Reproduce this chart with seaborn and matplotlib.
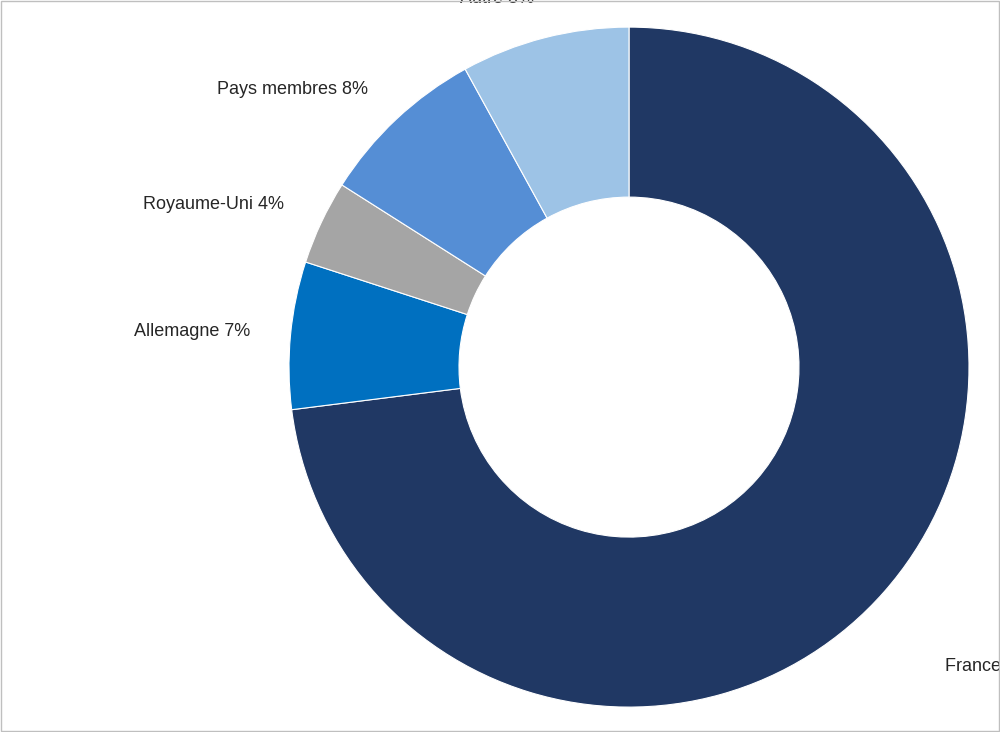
import matplotlib
matplotlib.use("Agg")
import matplotlib.pyplot as plt
import seaborn as sns

# ── data ─────────────────────────────────────────────────────────────────────
labels = ["France", "Allemagne", "Royaume-Uni", "Pays membres", "Autre"]
shares = [73, 7, 4, 8, 8]
colors = ["#203864", "#0070C0", "#A5A5A5", "#558ED5", "#9DC3E6"]

sns.set_style("white")
plt.rcParams["font.family"] = ["Liberation Sans", "DejaVu Sans"]

fig = plt.figure(figsize=(10, 7.32), dpi=100)
ax = fig.add_axes([0.289, 0.034, 0.68, 0.929])

texts = [f"{l} {v}%" for l, v in zip(labels, shares)]
wedges, txts = ax.pie(shares, labels=texts, colors=colors, startangle=90,
                      counterclock=False, labeldistance=1.12,
                      wedgeprops=dict(width=0.5, edgecolor="white", linewidth=0.8),
                      textprops=dict(fontsize=13))
ax.set_xlim(-1, 1)
ax.set_ylim(-1, 1)
ax.set_aspect("equal")
for t in txts:
    t.set_clip_on(False)
txts[0].set_position((0.93, -0.88))

# figure border
fig.patches.append(plt.Rectangle((0.001, 0.001), 0.998, 0.998, transform=fig.transFigure,
                                 fill=False, edgecolor="#BFBFBF", linewidth=1))

fig.savefig("out.png", dpi=100)
